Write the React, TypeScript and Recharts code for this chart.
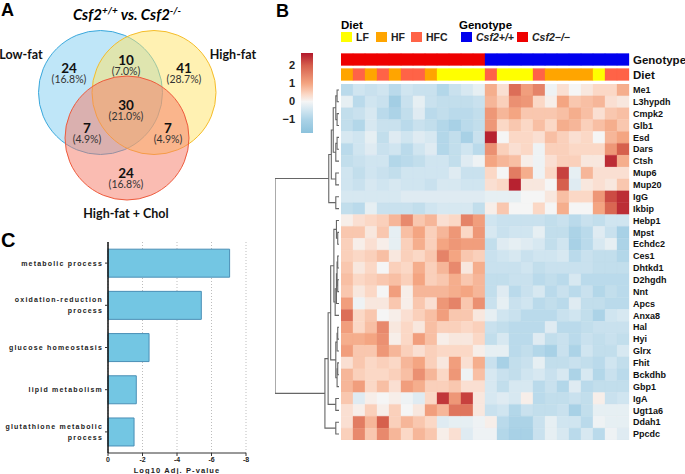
import React from 'react'
import { BarChart, Bar, XAxis, YAxis, Cell, CartesianGrid, ScatterChart, Scatter } from 'recharts'

const SANS = '"Liberation Sans", Arial, sans-serif'
const VENN_FONT = 'Lato, "Open Sans", sans-serif'

// ---- Panel A: Venn diagram ----
const vennSetNames = ['Low-fat', 'High-fat', 'High-fat + Chol']
const vennCounts = [24, 10, 41, 30, 7, 7, 24]
const vennPercents = ['16.8%', '7.0%', '28.7%', '21.0%', '4.9%', '4.9%', '16.8%']

// layout of the diagram (plot units = px)
const vennCircles = [
  { x: 100.5, y: 92.5, r: 62, fill: '#7fcdf2', stroke: '#3aa8dc' },
  { x: 154, y: 92.5, r: 62, fill: '#ffe466', stroke: '#f5bd2a' },
  { x: 127, y: 138, r: 62, fill: '#f57a66', stroke: '#ee5a3c' },
]
const vennSetLabelPos = [
  { x: 21, y: 54 },
  { x: 233, y: 54 },
  { x: 126, y: 213 },
]
const vennRegionPos = [
  { x: 69, y: 67 },
  { x: 126, y: 59 },
  { x: 184, y: 67 },
  { x: 126, y: 104 },
  { x: 87, y: 127 },
  { x: 168, y: 127 },
  { x: 126, y: 172 },
]

// ---- Panel B: heatmap ----
const genes = [
  'Me1', 'L3hypdh', 'Cmpk2', 'Glb1', 'Esd', 'Dars', 'Ctsh', 'Mup6', 'Mup20', 'IgG', 'Ikbip',
  'Hebp1', 'Mpst', 'Echdc2', 'Ces1', 'Dhtkd1', 'D2hgdh', 'Nnt', 'Apcs', 'Anxa8', 'Hal', 'Hyi',
  'Glrx', 'Fhit', 'Bckdhb', 'Gbp1', 'IgA', 'Ugt1a6', 'Ddah1', 'Ppcdc',
]

const genotypeRow = [
  'KO', 'KO', 'KO', 'KO', 'KO', 'KO', 'KO', 'KO', 'KO', 'KO', 'KO', 'KO',
  'WT', 'WT', 'WT', 'WT', 'WT', 'WT', 'WT', 'WT', 'WT', 'WT', 'WT', 'WT',
]
const dietRow = [
  'HF', 'HFC', 'HF', 'HFC', 'HF', 'HFC', 'HFC', 'HF', 'LF', 'LF', 'LF', 'LF',
  'HFC', 'LF', 'LF', 'LF', 'HFC', 'HF', 'HF', 'HF', 'HF', 'LF', 'HFC', 'HFC',
]

// z-scores, one row per gene (Csf2-/- columns first, then Csf2+/+)
const heatRows = [
  [-0.8, -0.5, -0.6, -0.5, -0.8, -0.5, -0.6, -0.6, -0.9, -0.6, -0.4, -0.2, 0.9, 0.3, 1.8, 1.1, 1.5, -0.1, 0.3, 0.0, 0.2, 0.4, 0.4, 0.9],
  [-0.2, -0.8, -0.5, -0.6, -1.2, -0.6, -0.2, -0.6, -0.7, -0.7, -0.7, -0.6, 0.8, 0.5, 1.3, 1.2, 0.4, 0.1, 1.0, 0.6, 0.7, 0.8, 0.3, 0.2],
  [-0.7, -0.6, -0.4, -0.8, -1.0, -0.7, -0.3, -0.8, -0.7, -0.8, -0.8, -0.7, 1.2, 0.8, 1.0, 0.6, 0.6, 0.6, 0.7, 0.9, 0.7, 0.3, 0.6, 0.7],
  [-0.7, -0.9, -0.4, -0.6, -0.6, -0.8, -0.6, -0.7, -0.9, -1.1, -0.8, -0.7, 1.2, 0.4, 0.6, 0.4, 0.7, 0.4, 0.9, 0.8, 0.5, 0.7, 0.9, 0.6],
  [-0.4, -0.5, -0.2, -0.7, -0.3, -0.5, -0.3, -0.4, -0.9, -0.7, -1.1, -0.6, 2.6, 0.0, 0.4, 0.4, 0.3, 0.7, 0.5, 0.3, 0.4, 0.0, 0.8, 1.0],
  [-0.8, -0.5, -0.3, -0.6, -0.5, -0.8, -0.5, -0.3, -0.9, -0.7, -0.5, -0.8, 1.3, 0.5, 0.3, 0.4, -0.1, 0.5, 0.5, 0.4, 0.4, 0.4, 1.2, 2.0],
  [-0.7, -0.6, -0.5, -0.5, -0.9, -0.8, -0.7, -0.5, -0.5, -0.7, -0.3, -0.1, 1.0, 0.8, 0.7, 0.1, -0.1, 0.3, 0.5, 0.5, 0.2, 0.2, 2.5, 0.9],
  [-0.5, -0.7, -0.5, -0.6, -0.7, -0.5, -0.5, -0.5, -0.5, -0.3, -0.6, -0.6, 0.4, 0.0, 1.6, 0.9, -0.1, 0.4, 2.3, -0.2, 0.8, 0.3, 0.3, 0.3],
  [-0.5, -0.6, -0.4, -0.5, -0.4, -0.5, -0.5, -0.6, -0.4, -0.4, -0.5, -0.5, 0.3, 0.4, 2.6, 0.2, 0.2, 0.0, 2.0, -0.3, 0.2, 0.3, 0.2, 0.6],
  [-0.4, -0.4, -0.4, -0.4, -0.4, -0.3, -0.3, -0.3, -0.3, -0.3, -0.3, -0.3, -0.2, -0.2, -0.2, 0.0, 0.0, 0.2, 0.7, 0.4, 0.4, 1.2, 2.2, 2.5],
  [-0.7, -0.8, -0.2, -0.6, -0.6, -0.6, -0.7, -0.5, -0.4, -0.4, -0.4, -0.7, 0.1, 0.6, 0.0, 0.0, 0.4, 0.0, 0.9, 0.0, 0.0, 1.0, 1.9, 2.5],
  [0.1, 0.3, 0.4, 0.5, 0.8, 1.4, 0.6, 0.8, 0.3, 0.4, 1.5, 1.1, -0.5, -0.6, -0.6, -0.6, -0.6, -0.7, -0.6, -0.8, -0.6, -0.7, -0.5, -0.5],
  [0.6, 0.6, 0.2, 0.6, -0.2, 0.7, 1.0, 0.5, 0.8, 1.2, 0.4, 1.2, -0.4, -0.6, -0.5, -0.5, -0.2, -0.7, -0.7, -1.0, -0.8, -0.3, -0.6, -1.1],
  [0.5, 0.1, 0.3, 0.1, -0.2, 0.5, 0.9, 0.5, 1.0, 1.2, 1.1, 1.1, -0.7, -0.3, -0.2, -0.3, -0.4, -0.7, -0.5, -1.1, -0.8, -0.4, -0.2, -1.0],
  [0.5, 0.4, 0.5, 0.7, 0.2, 0.5, 0.4, 0.6, 1.5, 1.0, 0.6, 0.5, -0.6, -0.5, -0.4, -0.6, -0.5, -0.5, -0.4, -0.8, -0.6, -0.7, -0.7, -0.9],
  [0.6, 0.2, 0.4, 0.0, 0.5, 0.4, 0.9, 0.5, 0.8, 1.4, 0.2, 0.9, -0.6, -0.6, -0.6, -0.5, -0.7, -0.6, -0.6, -0.6, -0.6, -0.7, -0.7, -0.7],
  [0.7, 0.4, 0.5, 0.6, 0.7, 0.5, 1.0, 0.5, 0.6, 0.9, 0.6, 0.8, -0.7, -0.7, -0.6, -0.6, -0.8, -0.7, -0.8, -0.4, -0.8, -0.8, -0.8, -0.8],
  [0.6, 0.2, 0.4, 0.0, 1.1, 0.1, 0.8, 0.8, 0.8, 0.9, 1.0, 0.8, -0.7, -0.3, -0.8, -0.6, -0.4, -0.8, -0.6, -0.8, -0.6, -0.9, -0.7, -0.8],
  [1.1, -0.1, 0.2, 0.2, 0.6, 0.1, 0.6, 0.3, 1.2, 1.5, 0.6, 1.3, -0.6, -0.2, -0.6, -0.5, -0.8, -0.7, -0.8, -0.3, -0.7, -0.7, -0.8, -0.8],
  [1.8, 0.4, 0.6, 0.0, 0.1, 0.3, 0.5, 0.7, 1.1, 0.6, 0.6, 0.2, -0.2, -0.5, -0.6, -0.8, -0.8, -0.8, -0.6, -0.5, -0.7, -1.0, -0.5, -0.4],
  [1.1, 0.4, 0.7, 1.4, 0.2, 0.4, 0.2, 0.7, 0.5, 0.5, 0.4, 0.5, -0.6, -0.7, -0.8, -0.8, -0.8, -0.3, -0.8, -0.8, -0.7, -0.6, -0.6, -0.6],
  [0.9, 0.9, 1.0, 1.3, 0.1, 0.4, 1.1, 0.7, 0.1, 0.2, 0.2, 0.4, -0.7, -0.4, -0.8, -0.8, -0.3, -0.7, -0.6, -0.8, -0.6, -0.7, -0.6, -0.7],
  [1.1, 0.6, 0.6, 1.2, 0.8, 0.5, 0.3, 0.5, 0.4, 0.4, 0.4, 0.1, -0.2, -0.2, -0.8, -0.7, -0.9, -1.1, -0.6, -1.0, -0.5, -0.7, -0.7, -0.4],
  [0.3, 0.6, 0.4, 0.5, 0.4, 0.8, 1.0, 0.5, 0.2, 1.1, 0.3, 0.9, -0.6, -1.1, -0.7, -0.6, -0.2, -0.7, -0.7, -0.6, -0.7, -0.8, -0.5, -0.7],
  [0.8, 0.5, 0.4, 0.4, 0.5, 0.7, 1.3, 0.8, 0.4, 1.2, -0.1, 0.7, -0.4, -0.6, -0.7, -0.5, -0.4, -0.6, -0.4, -1.0, -0.4, -0.9, -0.6, -0.8],
  [0.8, 1.1, 0.4, 0.7, 0.3, 1.1, 0.9, 0.5, 0.5, 0.6, 0.3, 0.3, -0.4, -0.7, -0.4, -0.4, -0.8, -0.6, -0.9, -0.3, -0.8, -0.7, -0.7, -0.7],
  [0.6, -0.3, 0.1, 0.0, 0.1, -0.1, -0.3, 0.4, 2.4, 1.2, 2.3, 0.2, -0.4, -0.3, -0.4, 0.1, -0.8, -0.7, -0.7, -0.6, -0.7, 0.1, -0.6, -0.5],
  [0.3, 0.1, 0.5, 0.1, 0.5, 0.0, 0.2, 1.1, 0.8, 1.7, 1.7, 0.2, -0.6, -0.5, -0.9, -0.6, -0.7, -0.7, -0.6, -1.1, -0.7, -0.2, -0.2, -0.2],
  [0.3, 1.6, 0.8, 2.0, 0.5, 0.8, 0.6, 0.4, -0.3, -0.2, -0.2, -0.1, 0.1, -0.8, -1.0, -1.0, -0.6, -0.2, -0.5, -0.5, -0.8, -0.1, -0.2, -0.2],
  [0.5, 1.4, 0.6, 1.4, 0.8, 0.4, 0.8, 0.6, 0.1, 0.3, -0.3, -0.1, -0.1, -0.9, -1.1, -1.1, -0.6, -0.2, -0.4, -0.8, -0.4, -0.8, -0.1, -0.3],
]

// row dendrogram, hclust style: negative = leaf (1-based row), positive = earlier merge
const rowMerges: [number, number, number][] = [
  [-1, -2, 0.03], [-3, -4, 0.03], [1, 2, 0.05], [-5, -6, 0.03], [4, -7, 0.05],
  [3, 5, 0.09], [-8, -9, 0.05], [6, 7, 0.12], [-10, -11, 0.05], [8, 9, 0.16],
  [-13, -14, 0.02], [-12, 11, 0.04], [-15, -16, 0.02], [-17, -18, 0.02], [13, 14, 0.03],
  [15, -19, 0.04], [16, -20, 0.06], [12, 17, 0.08], [-21, -22, 0.02], [19, -23, 0.03],
  [-24, -25, 0.02], [21, -26, 0.03], [20, 22, 0.05], [18, 23, 0.13], [-27, -28, 0.05],
  [24, 25, 0.17], [-29, -30, 0.05], [26, 27, 0.22], [10, 28, 1.0],
]

const scaleTicks = [-1, 0, 1, 2]
const scaleMin = -1.75
const scaleMax = 2.7
const colorStops: [number, string][] = [
  [-1.75, '#8cc2dc'], [-1, '#acd3e7'], [-0.5, '#d0e5f0'], [0, '#f5f5f5'],
  [0.4, '#fbd8c6'], [1, '#f4a582'], [2, '#d6604d'], [2.7, '#b2182b'],
]

const dietLevels = ['LF', 'HF', 'HFC']
const dietColors: Record<string, string> = { LF: '#ffff00', HF: '#ffa500', HFC: '#ff6347' }
const genotypeLevels = ['WT', 'KO']
const genotypeNames: Record<string, string> = { WT: 'Csf2+/+', KO: 'Csf2\u2212/\u2212' }
const genotypeColors: Record<string, string> = { WT: '#0000ee', KO: '#ee0000' }

// ---- Panel C: GO enrichment ----
const goTerms = [
  'metabolic process',
  'oxidation-reduction process',
  'glucose homeostasis',
  'lipid metabolism',
  'glutathione metabolic process',
]
const goLog10P = [-7.05, -5.41, -2.38, -1.64, -1.51]
const goTicks = [0, -2, -4, -6, -8]

// ---------- helpers ----------
function hex(c: string) {
  return [1, 3, 5].map((i) => parseInt(c.slice(i, i + 2), 16))
}
function heatColor(v: number) {
  if (v <= colorStops[0][0]) return colorStops[0][1]
  for (let i = 1; i < colorStops.length; i++) {
    const [v1, c1] = colorStops[i]
    if (v <= v1) {
      const [v0, c0] = colorStops[i - 1]
      const t = (v - v0) / (v1 - v0)
      const a = hex(c0)
      const b = hex(c1)
      const m = a.map((x, k) => Math.round(x + (b[k] - x) * t))
      return `rgb(${m[0]},${m[1]},${m[2]})`
    }
  }
  return colorStops[colorStops.length - 1][1]
}

const cols = genotypeRow.map((_, j) => j)
const heatData = genes.map((g) => {
  const row: any = { gene: g }
  cols.forEach((j) => (row[`c${j}`] = 1))
  return row
})
const annoLabels = ['Genotype', 'Diet']
const annoData = annoLabels.map((a) => {
  const row: any = { name: a }
  cols.forEach((j) => (row[`c${j}`] = 1))
  return row
})
const annoColor = (i: number, j: number) =>
  i === 0 ? genotypeColors[genotypeRow[j]] : dietColors[dietRow[j]]

// dendrogram brackets from the merge table
function buildBrackets() {
  const nodes: { y: number; h: number }[] = []
  const pos = (id: number) => (id < 0 ? { y: -id - 0.5, h: 0 } : nodes[id - 1])
  return rowMerges.map(([a, b, h]) => {
    const pa = pos(a)
    const pb = pos(b)
    nodes.push({ y: (pa.y + pb.y) / 2, h })
    return [
      { h: pa.h, y: pa.y },
      { h, y: pa.y },
      { h, y: pb.y },
      { h: pb.h, y: pb.y },
    ]
  })
}
const brackets = buildBrackets()

const goData = goTerms.map((t, i) => ({ term: t, p: goLog10P[i] }))

const vennSetData = vennCircles.map((c, i) => ({ ...c, name: vennSetNames[i] }))
const vennLabelData = vennSetLabelPos.map((p, i) => ({ ...p, name: vennSetNames[i] }))
const vennRegionData = vennRegionPos.map((p, i) => ({ ...p, n: vennCounts[i], pct: vennPercents[i] }))

// gradient stops must go top (high) to bottom (low)
const gradStops = [...colorStops].reverse()

// ---------- shapes ----------
const VennCircle = (p: any) => (
  <circle cx={p.cx} cy={p.cy} r={p.payload.r} fill={p.payload.fill} fillOpacity={0.5}
    stroke={p.payload.stroke} strokeWidth={1} />
)
const VennRegion = (p: any) => (
  <g fontFamily={VENN_FONT} textAnchor="middle">
    <text x={p.cx} y={p.cy + 5.5} fontSize={13.5} fontWeight="bold" fill="#111">{p.payload.n}</text>
    <text x={p.cx} y={p.cy + 16} fontSize={10.5} fill="#333">({p.payload.pct})</text>
  </g>
)
const VennSetLabel = (p: any) => (
  <text x={p.cx} y={p.cy + 4.5} textAnchor="middle" fontFamily={VENN_FONT} fontSize={12.5}
    fontWeight="bold" fill="#111">{p.payload.name}</text>
)

function wrapTerm(t: string) {
  if (t.length <= 20) return [t]
  const k = t.lastIndexOf(' ')
  return [t.slice(0, k), t.slice(k + 1)]
}
const GoTick = (p: any) => {
  const lines = wrapTerm(p.payload.value)
  return (
    <text x={p.x} y={p.y} textAnchor="end" fontFamily={SANS} fontSize={7} fontWeight="bold"
      letterSpacing={1.2} fill="#222">
      {lines.map((l, i) => (
        <tspan key={i} x={p.x} dy={i === 0 ? (lines.length === 1 ? 2.5 : -3) : 11}>{l}</tspan>
      ))}
    </text>
  )
}

const abs = (l: number, t: number, w: number, h: number): React.CSSProperties => ({
  position: 'absolute', left: l, top: t, width: w, height: h,
})

export default function App() {
  return (
    <div style={{ position: 'absolute', left: 0, top: 0, width: 685, height: 474, background: '#fff', overflow: 'hidden', fontFamily: SANS }}>
      {/* panel letters */}
      <div style={{ position: 'absolute', left: 1, top: 0, fontSize: 18, fontWeight: 'bold' }}>A</div>
      <div style={{ position: 'absolute', left: 276, top: 1, fontSize: 18, fontWeight: 'bold' }}>B</div>
      <div style={{ position: 'absolute', left: 1, top: 229, fontSize: 20, fontWeight: 'bold' }}>C</div>

      {/* Venn title */}
      <div style={{ position: 'absolute', left: 0, top: 4, width: 254, textAlign: 'center', fontFamily: VENN_FONT, fontSize: 15, fontWeight: 'bold', fontStyle: 'italic' }}>
        Csf2<sup style={{ fontSize: 10 }}>+/+</sup> vs. Csf2<sup style={{ fontSize: 10 }}>-/-</sup>
      </div>

      <div style={abs(0, 0, 260, 225)}>
        <ScatterChart width={260} height={225} margin={{ top: 0, right: 0, bottom: 0, left: 0 }}>
          <XAxis type="number" dataKey="x" domain={[0, 260]} hide />
          <YAxis type="number" dataKey="y" domain={[0, 225]} reversed hide />
          <Scatter data={vennSetData} shape={VennCircle} isAnimationActive={false} />
          <Scatter data={vennRegionData} shape={VennRegion} isAnimationActive={false} />
          <Scatter data={vennLabelData} shape={VennSetLabel} isAnimationActive={false} />
        </ScatterChart>
      </div>

      {/* heatmap legend */}
      <div style={{ position: 'absolute', left: 341, top: 19, fontSize: 11.5, fontWeight: 'bold' }}>Diet</div>
      {dietLevels.map((d, i) => (
        <div key={d} style={{ position: 'absolute', left: 341 + i * 35, top: 31, display: 'flex', alignItems: 'center', fontSize: 10.5, fontWeight: 'bold', color: '#222' }}>
          <span style={{ display: 'inline-block', width: 11, height: 10, background: dietColors[d], marginRight: 4 }} />
          {d}
        </div>
      ))}
      <div style={{ position: 'absolute', left: 459, top: 19, fontSize: 11.5, fontWeight: 'bold' }}>Genotype</div>
      {genotypeLevels.map((g, i) => (
        <div key={g} style={{ position: 'absolute', left: 461 + i * 56, top: 31, display: 'flex', alignItems: 'center', fontSize: 10.5, fontWeight: 'bold', fontStyle: 'italic', color: '#222' }}>
          <span style={{ display: 'inline-block', width: 11, height: 10, background: genotypeColors[g], marginRight: 4 }} />
          {genotypeNames[g]}
        </div>
      ))}

      {/* colour scale */}
      <div style={abs(280, 53, 33, 80)}>
        <BarChart width={33} height={80} data={[{ k: 's', range: [scaleMin, scaleMax] }]}
          margin={{ top: 0, right: 0, bottom: 0, left: 0 }} barCategoryGap={0}>
          <defs>
            <linearGradient id="heatGrad" x1="0" y1="0" x2="0" y2="1">
              {gradStops.map(([v, c]) => (
                <stop key={v} offset={(scaleMax - v) / (scaleMax - scaleMin)} stopColor={c} />
              ))}
            </linearGradient>
          </defs>
          <XAxis dataKey="k" hide />
          <YAxis type="number" domain={[scaleMin, scaleMax]} ticks={scaleTicks} width={21}
            tickLine={false} axisLine={false} tickSize={0} tickMargin={6} interval={0}
            tickFormatter={(v: number) => (v < 0 ? `\u2212${-v}` : `${v}`)}
            tick={{ fontSize: 11, fontWeight: 'bold', fill: '#222', fontFamily: SANS }} />
          <Bar dataKey="range" fill="url(#heatGrad)" isAnimationActive={false} />
        </BarChart>
      </div>

      {/* column annotations */}
      <div style={abs(341, 52, 344, 30)}>
        <BarChart layout="vertical" width={344} height={30} data={annoData}
          margin={{ top: 0, right: 0, bottom: 0, left: 0 }} barCategoryGap={1.5}>
          <XAxis type="number" domain={[0, cols.length]} hide />
          <YAxis type="category" dataKey="name" orientation="right" width={56} tickLine={false}
            axisLine={false} tickSize={0} tickMargin={4} interval={0}
            tick={{ fontSize: 11.5, fontWeight: 'bold', fill: '#111', fontFamily: SANS }} />
          {cols.map((j) => (
            <Bar key={j} dataKey={`c${j}`} stackId="a" isAnimationActive={false}>
              {annoLabels.map((_, i) => (
                <Cell key={i} fill={annoColor(i, j)} stroke={annoColor(i, j)} strokeWidth={0.3} />
              ))}
            </Bar>
          ))}
        </BarChart>
      </div>

      {/* dendrogram */}
      <div style={abs(275, 84, 64, 356)}>
        <ScatterChart width={64} height={356} margin={{ top: 0, right: 0, bottom: 0, left: 0 }}>
          <XAxis type="number" dataKey="h" domain={[0, 1]} reversed hide />
          <YAxis type="number" dataKey="y" domain={[0, genes.length]} reversed hide />
          {brackets.map((b, k) => (
            <Scatter key={k} data={b} line={{ stroke: '#666', strokeWidth: 1.1 }}
              shape={() => <g />} isAnimationActive={false} />
          ))}
        </ScatterChart>
      </div>

      {/* heatmap */}
      <div style={abs(341, 84, 344, 356)}>
        <BarChart layout="vertical" width={344} height={356} data={heatData}
          margin={{ top: 0, right: 0, bottom: 0, left: 0 }} barCategoryGap={0}>
          <XAxis type="number" domain={[0, cols.length]} hide />
          <YAxis type="category" dataKey="gene" orientation="right" width={56} tickLine={false}
            axisLine={false} tickSize={0} tickMargin={4} interval={0}
            tick={{ fontSize: 9, fontWeight: 'bold', fill: '#111', fontFamily: SANS }} />
          {cols.map((j) => (
            <Bar key={j} dataKey={`c${j}`} stackId="h" isAnimationActive={false}>
              {heatRows.map((row, i) => (
                <Cell key={i} fill={heatColor(row[j])} stroke={heatColor(row[j])} strokeWidth={0.3} />
              ))}
            </Bar>
          ))}
        </BarChart>
      </div>

      {/* GO bar chart */}
      <div style={abs(0, 236, 250, 238)}>
        <BarChart layout="vertical" width={250} height={238} data={goData}
          margin={{ top: 6, right: 4, bottom: 0, left: 0 }} barCategoryGap="17%">
          <CartesianGrid horizontal={false} strokeDasharray="1 2" stroke="#bdbdbd" />
          <XAxis type="number" domain={[-8, 0]} reversed ticks={goTicks} height={21} interval={0}
            tickSize={3} tickMargin={1} stroke="#333"
            tick={{ fontSize: 7, fontWeight: 'bold', fill: '#222', fontFamily: SANS }}
            label={{ value: 'Log10 Adj. P-value', position: 'insideBottom', offset: 1, fontSize: 7.5,
              fontWeight: 'bold', fill: '#222', letterSpacing: 1.1, fontFamily: SANS }} />
          <YAxis type="category" dataKey="term" width={108} tick={<GoTick />} interval={0}
            tickSize={3} tickMargin={2} axisLine={{ stroke: '#111', strokeWidth: 1.5 }} tickLine={{ stroke: '#333' }} />
          <Bar dataKey="p" fill="#73c6e3" stroke="#4a8fb6" strokeWidth={1} isAnimationActive={false} />
        </BarChart>
      </div>
    </div>
  )
}
